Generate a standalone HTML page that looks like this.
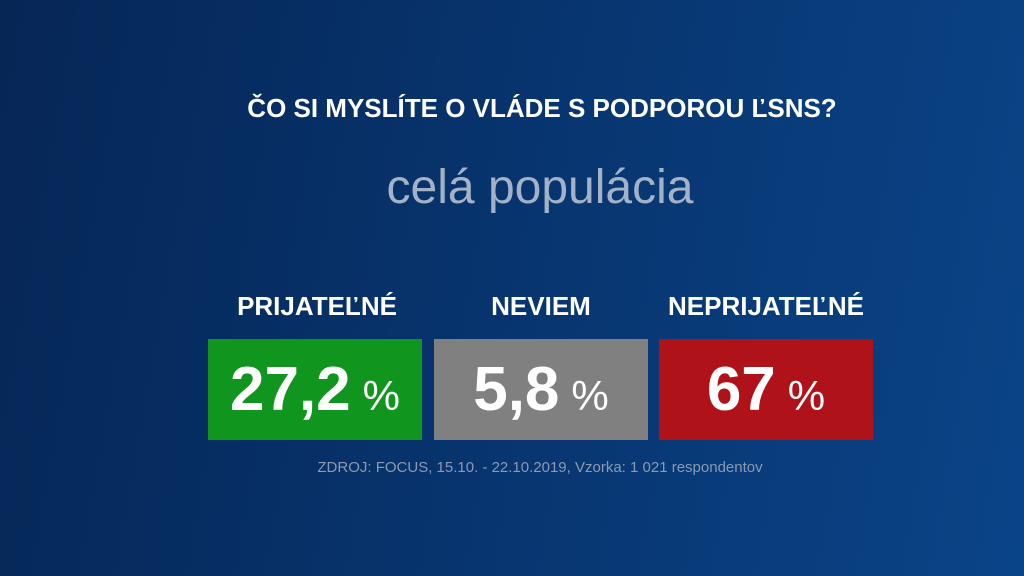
<!DOCTYPE html>
<html><head><meta charset="utf-8"><style>
body{margin:0;width:1024px;height:576px;overflow:hidden;font-family:"Liberation Sans",sans-serif;
background:linear-gradient(100deg,#062656 0%,#07336c 45%,#0a4488 100%);position:relative}
.t{position:absolute;left:0;width:1024px;text-align:center;color:#fff}
.h{position:absolute;color:#fff;font-weight:bold;font-size:26px;text-align:center;top:291px;width:260px}
.b{position:absolute;top:339px;height:101px;width:214px;color:#fff;text-align:center;line-height:101px}
.b b{font-size:62px}
.b span{font-size:42px;margin-left:12px;font-weight:300}
</style></head><body>
<div class="t" style="top:93px;font-size:26px;font-weight:bold;left:30px">ČO SI MYSLÍTE O VLÁDE S PODPOROU ĽSNS?</div>
<div class="t" style="top:160px;font-size:48px;color:#a3b2c6;left:28px">celá populácia</div>
<div class="h" style="left:187px">PRIJATEĽNÉ</div>
<div class="h" style="left:411px">NEVIEM</div>
<div class="h" style="left:636px">NEPRIJATEĽNÉ</div>
<div class="b" style="left:208px;background:#10961e"><b>27,2</b><span>%</span></div>
<div class="b" style="left:434px;background:#808080"><b>5,8</b><span>%</span></div>
<div class="b" style="left:659px;background:#b0121a"><b>67</b><span>%</span></div>
<div class="t" style="top:459px;font-size:15px;color:#8a9ab3;left:28px">ZDROJ: FOCUS, 15.10. - 22.10.2019, Vzorka: 1 021 respondentov</div>
</body></html>
